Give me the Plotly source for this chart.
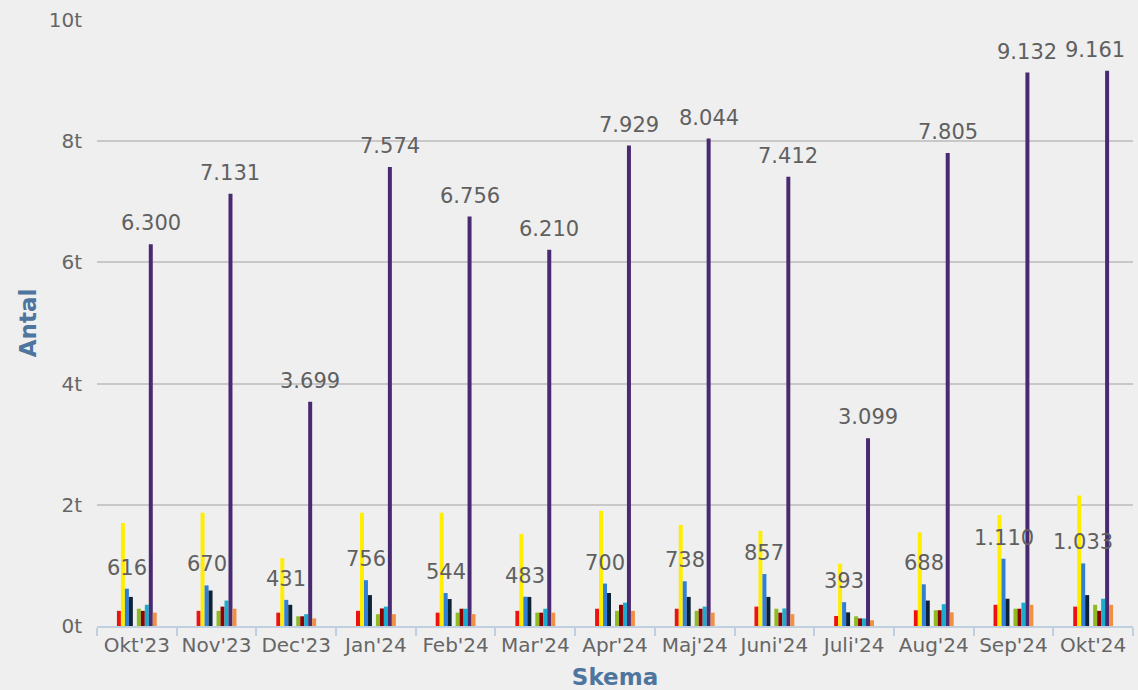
import plotly.graph_objects as go

# Months on the category axis
months = ["Okt'23", "Nov'23", "Dec'23", "Jan'24", "Feb'24", "Mar'24", "Apr'24",
          "Maj'24", "Juni'24", "Juli'24", "Aug'24", "Sep'24", "Okt'24"]

# Series values per month (ten series, drawn in this order within each group)
s_red = [250, 250, 220, 250, 220, 250, 285, 285, 320, 165, 260, 350, 320]
s_yellow = [1700, 1870, 1120, 1870, 1870, 1520, 1900, 1670, 1570, 1030, 1545, 1830, 2155]
s_blue = [616, 670, 431, 756, 544, 483, 700, 738, 857, 393, 688, 1110, 1033]
s_navy = [480, 585, 350, 510, 445, 480, 545, 480, 480, 225, 420, 450, 510]
s_empty = [None] * 13
s_green = [285, 250, 160, 195, 220, 220, 250, 250, 285, 160, 260, 285, 350]
s_darkred = [250, 320, 160, 290, 285, 220, 350, 285, 220, 125, 260, 285, 250]
s_cyan = [350, 420, 195, 320, 285, 285, 385, 320, 290, 125, 360, 385, 450]
s_purple = [6300, 7131, 3699, 7574, 6756, 6210, 7929, 8044, 7412, 3099, 7805, 9132, 9161]
s_orange = [220, 285, 125, 195, 195, 220, 250, 220, 195, 95, 225, 350, 350]

# Y axis ticks
y_tickvals = [0, 2000, 4000, 6000, 8000, 10000]
y_ticktext = ["0t", "2t", "4t", "6t", "8t", "10t"]

series = [
    ("Rød", s_red, "#ee1111", False),
    ("Gul", s_yellow, "#ffee00", False),
    ("Blå", s_blue, "#2f7ed8", True),
    ("Navy", s_navy, "#0d233a", False),
    ("Tom", s_empty, "#77a1e5", False),
    ("Grøn", s_green, "#8bbc21", False),
    ("Mørkerød", s_darkred, "#910000", False),
    ("Cyan", s_cyan, "#1aadce", False),
    ("Lilla", s_purple, "#492970", True),
    ("Orange", s_orange, "#f28f43", False),
]

WIDTH, HEIGHT = 1138, 690
MARGIN_L, MARGIN_R = 97, 5
LABEL_SIZE = 21
BARGAP = 0.5
n_series = len(series)
slot = (1 - BARGAP) / n_series
x_max = len(months) - 0.5
px_per_cat = (WIDTH - MARGIN_L - MARGIN_R) / len(months)

fig = go.Figure()
annotations = []
for k, (name, vals, color, labelled) in enumerate(series):
    fig.add_trace(go.Bar(
        x=months, y=vals, name=name,
        marker=dict(color=color, line=dict(width=0)),
    ))
    if labelled:
        # value labels sit a little above each bar of this series,
        # pulled back inside the plot when they would run past its right edge
        offset = -(1 - BARGAP) / 2 + slot * (k + 0.5)
        for i, v in enumerate(vals):
            text = f"{v:,}".replace(",", ".")
            half_w = len(text) * 0.3 * LABEL_SIZE / px_per_cat
            xpos, anchor, shift = i + offset, "center", 0
            if xpos + half_w > x_max:
                xpos, anchor, shift = x_max, "right", -6
            annotations.append(dict(
                x=xpos, y=v, xref="x", yref="y", text=text,
                showarrow=False, yanchor="bottom", xanchor=anchor,
                xshift=shift, yshift=7,
                font=dict(size=LABEL_SIZE, color="#606060", family="DejaVu Sans"),
            ))

fig.update_layout(
    width=WIDTH, height=HEIGHT,
    barmode="group", bargap=BARGAP, bargroupgap=0,
    showlegend=False,
    paper_bgcolor="#efefef", plot_bgcolor="#efefef",
    margin=dict(l=MARGIN_L, r=MARGIN_R, t=20, b=64, autoexpand=False),
    font=dict(family="DejaVu Sans", color="#666666"),
    annotations=annotations,
    xaxis=dict(
        title=dict(text="<b>Skema</b>", font=dict(size=23, color="#4d759e", family="DejaVu Sans"), standoff=14),
        tickfont=dict(size=20, color="#666666"),
        tickangle=0, automargin=False,
        range=[-0.5, x_max], autorange=False,
        showline=True, linecolor="#c0d0e0", linewidth=2,
        ticks="outside", tickson="boundaries", ticklen=8, tickcolor="#c0d0e0", tickwidth=2,
        showgrid=False,
    ),
    yaxis=dict(
        title=dict(text="<b>Antal</b>", font=dict(size=23, color="#4d759e", family="DejaVu Sans"), standoff=5),
        range=[0, 10000], automargin=False,
        tickvals=y_tickvals, ticktext=y_ticktext,
        tickfont=dict(size=20, color="#666666"),
        ticklabelstandoff=14,
        showgrid=True, gridcolor="#c8c8c8", gridwidth=2,
        zeroline=False, showline=False,
    ),
)

fig.write_html("out.html")
